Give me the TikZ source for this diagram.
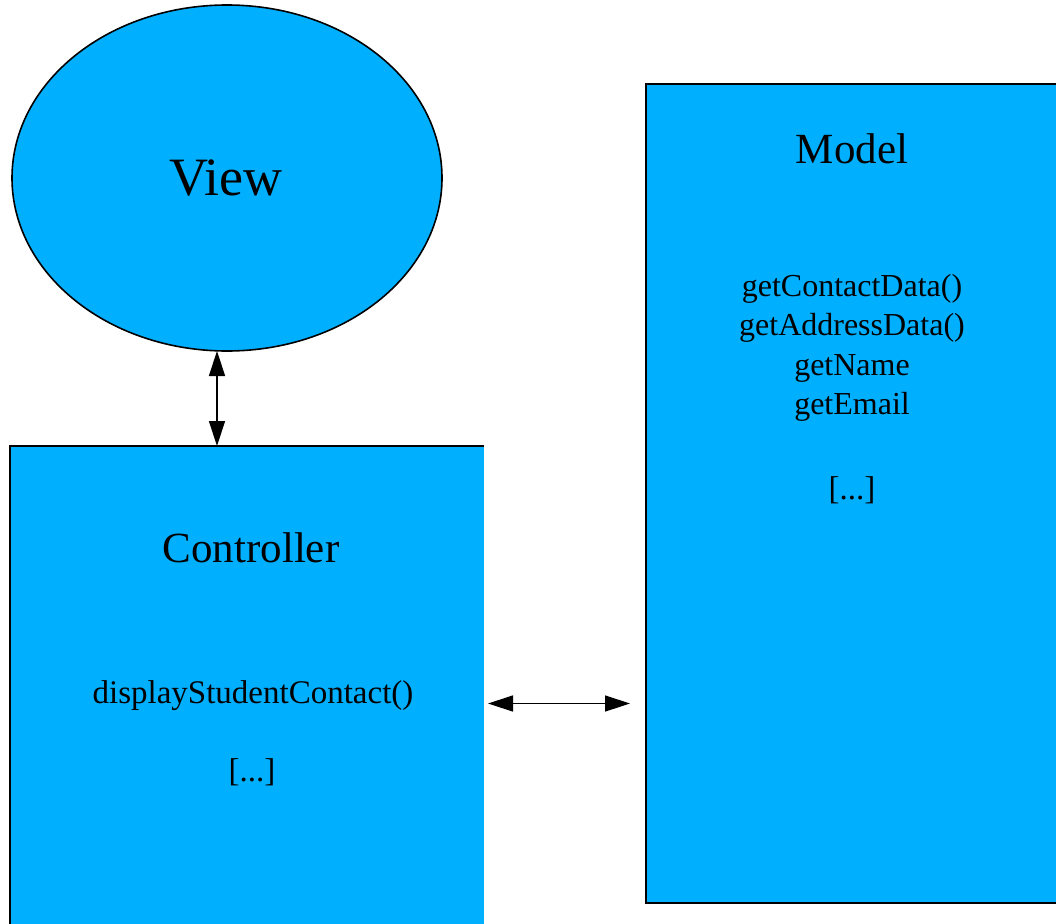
\documentclass[tikz,border=0pt]{standalone}
\usepackage{fontspec}
\setmainfont{Liberation Serif}
\usetikzlibrary{arrows.meta,calc,shapes.geometric}
\definecolor{mvcblue}{RGB}{0,176,255}
\tikzset{
  part/.style={fill=mvcblue, inner sep=0pt, outer sep=0pt},
  outline/.style={draw=black, line width=1.6pt},
  link/.style={line width=1.4pt, {Triangle[length=25pt,width=16pt]}-{Triangle[length=25pt,width=16pt]}},
  txt/.style={anchor=base, inner sep=0pt, align=center}
}
\begin{document}
\begin{tikzpicture}[x=1pt,y=-1pt]
  \useasboundingbox (0,0) rectangle (1056,923);
  \clip (0,0) rectangle (1056,923);

  % View
  \node[part, outline, ellipse, minimum width=430pt, minimum height=346pt] (view) at (227,178) {};
  \node[txt, font=\fontsize{54}{60}\selectfont] (viewlbl) at (226,195) {View};

  % Controller (runs off the bottom edge)
  \node[part, rectangle, minimum width=474pt, minimum height=480pt] (ctrl) at (247,686) {};
  \draw[outline] (ctrl.south west) -- (ctrl.north west) -- (ctrl.north east);
  \node[txt, font=\fontsize{43}{48}\selectfont] (ctrllbl) at (251,562) {Controller};
  \node[txt, font=\fontsize{33}{39}\selectfont] (ctrlops) at (253,703) {displayStudentContact()};
  \node[txt, font=\fontsize{33}{39}\selectfont] (ctrlmore) at (252,781) {[...]};

  % Model (runs off the right edge)
  \node[part, outline, rectangle, minimum width=420pt, minimum height=819pt] (model) at (856,493.5) {};
  \node[txt, font=\fontsize{43}{48}\selectfont] (modellbl) at (852,163) {Model};
  \node[txt, anchor=north, font=\fontsize{32}{39.5}\selectfont] (modelops) at (852,274)
    {getContactData()\\getAddressData()\\getName\\getEmail};
  \node[txt, font=\fontsize{33}{39}\selectfont] (modelmore) at (852,499) {[...]};

  % Connectors
  \coordinate (vc) at ([xshift=-10pt]view.south);
  \draw[link] (vc) -- (vc |- ctrl.north);
  \coordinate (cm) at ([shift={(4pt,-17.5pt)}]ctrl.east);
  \draw[link, shorten >=16pt] (cm) -- (cm -| model.west);
\end{tikzpicture}
\end{document}
